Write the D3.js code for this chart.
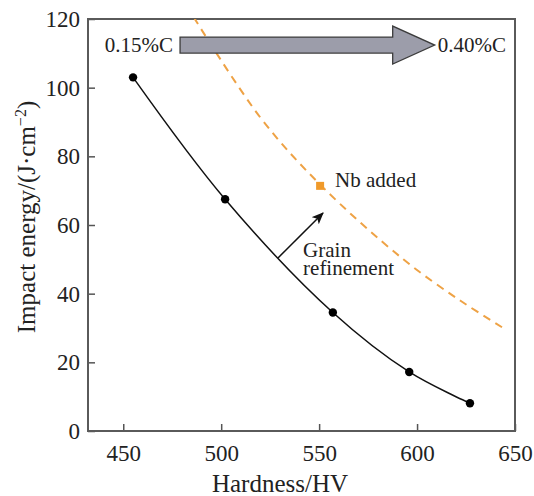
<!DOCTYPE html>
<html>
<head>
<meta charset="utf-8">
<script src="https://cdn.jsdelivr.net/npm/d3@7"></script>
<style>
  body { margin: 0; background: #fff; }
  svg { display: block; }
  text { font-family: "Liberation Serif", "Times New Roman", serif; fill: #222; }
</style>
</head>
<body>
<svg id="chart" width="534" height="496"></svg>
<script>
const hardness = [455, 502, 557, 596, 627];
const impact = [103, 67.5, 34.5, 17.2, 8.1];

// Nb-added trend (dashed) and its single point
const nbHardness = [486, 520, 551, 593, 622, 644];
const nbImpact = [120.5, 91.3, 71.5, 50, 38, 30];
const nbPoint = [550.5, 71.4];

const xTicks = [450, 500, 550, 600, 650];
const yTicks = [0, 20, 40, 60, 80, 100, 120];

const width = 534, height = 496;
const margin = { top: 19, right: 19, bottom: 65, left: 88 };
const innerWidth = width - margin.left - margin.right;
const innerHeight = height - margin.top - margin.bottom;

const svg = d3.select("#chart");

const x = d3.scaleLinear().domain([432, 650]).range([0, innerWidth]);
const y = d3.scaleLinear().domain([0, 120]).range([innerHeight, 0]);

const g = svg.append("g")
    .attr("transform", `translate(${margin.left},${margin.top})`);

svg.append("defs").append("clipPath")
    .attr("id", "plot-clip")
    .append("rect")
    .attr("width", innerWidth)
    .attr("height", innerHeight);

// Axes, ticks pointing inward
const xAxisG = g.append("g")
    .attr("transform", `translate(0,${innerHeight})`)
    .call(d3.axisBottom(x).tickValues(xTicks).tickSize(-7).tickPadding(14));
const yAxisG = g.append("g")
    .call(d3.axisLeft(y).tickValues(yTicks).tickSize(-7).tickPadding(8));

[xAxisG, yAxisG].forEach((a) => {
    a.select(".domain").remove();
    a.selectAll(".tick line").attr("stroke", "#555").attr("stroke-width", 1.5);
    a.selectAll("text")
        .style("font-family", "'Liberation Serif', serif")
        .style("font-size", "23px")
        .style("fill", "#222");
});
xAxisG.selectAll("text").attr("dy", "0.71em").attr("y", 14);

// Frame
g.append("rect")
    .attr("width", innerWidth)
    .attr("height", innerHeight)
    .attr("fill", "none")
    .attr("stroke", "#5a5a5a")
    .attr("stroke-width", 2);

// Dashed Nb-added curve
const nbData = nbHardness.map((h, i) => ({ h, e: nbImpact[i] }));
g.append("path")
    .datum(nbData)
    .attr("clip-path", "url(#plot-clip)")
    .attr("fill", "none")
    .attr("stroke", "#eea245")
    .attr("stroke-width", 2)
    .attr("stroke-dasharray", "8,6")
    .attr("d", d3.line().x((d) => x(d.h)).y((d) => y(d.e)).curve(d3.curveCatmullRom));

g.append("rect")
    .attr("x", x(nbPoint[0]) - 4)
    .attr("y", y(nbPoint[1]) - 4)
    .attr("width", 8)
    .attr("height", 8)
    .attr("fill", "#f09a2a");

g.append("text")
    .attr("x", x(nbPoint[0]) + 15)
    .attr("y", y(nbPoint[1]) + 1)
    .style("font-size", "21px")
    .text("Nb added");

// Solid measured curve + dots
const data = hardness.map((h, i) => ({ h, e: impact[i] }));
g.append("path")
    .datum(data)
    .attr("fill", "none")
    .attr("stroke", "#111")
    .attr("stroke-width", 1.5)
    .attr("d", d3.line().x((d) => x(d.h)).y((d) => y(d.e)).curve(d3.curveCatmullRom));

g.selectAll(".dot")
    .data(data)
    .join("circle")
    .attr("class", "dot")
    .attr("cx", (d) => x(d.h))
    .attr("cy", (d) => y(d.e))
    .attr("r", 4.2)
    .attr("fill", "#000");

// Grain refinement arrow
svg.select("defs").append("marker")
    .attr("id", "head")
    .attr("viewBox", "0 0 12 10")
    .attr("refX", 11)
    .attr("refY", 5)
    .attr("markerWidth", 12)
    .attr("markerHeight", 10)
    .attr("markerUnits", "userSpaceOnUse")
    .attr("orient", "auto")
    .append("path")
    .attr("d", "M0,0 L12,5 L0,10 L3,5 z")
    .attr("fill", "#111");

g.append("line")
    .attr("x1", x(529)).attr("y1", y(50.4))
    .attr("x2", x(552)).attr("y2", y(63.5))
    .attr("stroke", "#111")
    .attr("stroke-width", 1.5)
    .attr("marker-end", "url(#head)");

g.append("text")
    .attr("x", x(541.8)).attr("y", y(50.7))
    .style("font-size", "21px")
    .text("Grain");
g.append("text")
    .attr("x", x(541.8)).attr("y", y(45.4))
    .style("font-size", "21px")
    .text("refinement");

// Carbon content arrow (0.15%C -> 0.40%C)
const arrowFrom = 479, arrowTo = 609, arrowY = 112.4;
const ay = y(arrowY), ax0 = x(arrowFrom), ax1 = x(arrowTo);
const shaft = 8, headH = 19, headL = 42;
g.append("path")
    .attr("d", `M${ax0},${ay - shaft} L${ax1 - headL},${ay - shaft} L${ax1 - headL},${ay - headH}
        L${ax1},${ay} L${ax1 - headL},${ay + headH} L${ax1 - headL},${ay + shaft} L${ax0},${ay + shaft} Z`)
    .attr("fill", "#9c9daa")
    .attr("stroke", "#3c3c3c")
    .attr("stroke-width", 1.3);

g.append("text")
    .attr("x", ax0 - 7).attr("y", ay + 7)
    .attr("text-anchor", "end")
    .style("font-size", "21px")
    .text("0.15%C");
g.append("text")
    .attr("x", ax1 + 3).attr("y", ay + 7)
    .style("font-size", "21px")
    .text("0.40%C");

// Axis titles
svg.append("text")
    .attr("x", 280)
    .attr("y", 492)
    .attr("text-anchor", "middle")
    .style("font-size", "25px")
    .text("Hardness/HV");

const yTitle = svg.append("text")
    .attr("transform", `translate(35,217) rotate(-90)`)
    .attr("text-anchor", "middle")
    .style("font-size", "25px");
yTitle.append("tspan").text("Impact energy/(J·cm");
yTitle.append("tspan").attr("dy", -9).style("font-size", "16px").text("−2");
yTitle.append("tspan").attr("dy", 9).text(")");
</script>
</body>
</html>
